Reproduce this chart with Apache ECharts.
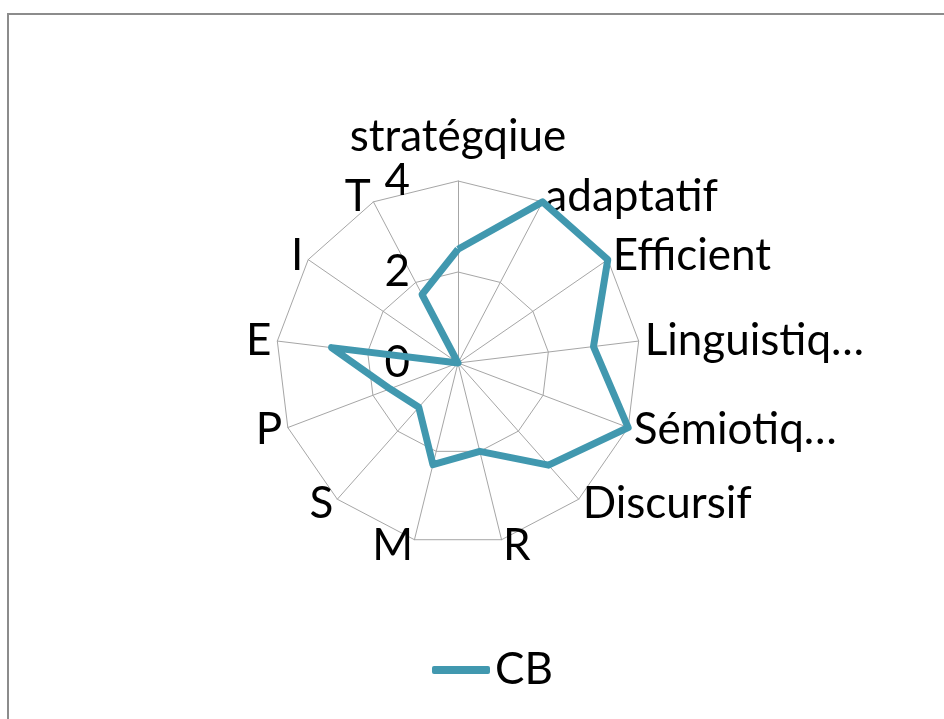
<!DOCTYPE html>
<html>
<head>
<meta charset="utf-8">
<script src="https://cdn.jsdelivr.net/npm/echarts@6/dist/echarts.min.js"></script>
<style>
  html, body { margin: 0; padding: 0; background: #fff; }
  #main { width: 944px; height: 719px; }
</style>
</head>
<body>
<div id="main"></div>
<script>
// axes of the radar, clockwise from the top
const categories = ['stratégqiue', 'adaptatif', 'Efficient', 'Linguistiq…', 'Sémiotiq…', 'Discursif',
  'R', 'M', 'S', 'P', 'E', 'I', 'T'];
// CB series
const cbValues = [2.5, 4, 4, 3, 4, 3, 2, 2.3, 1.3, 1.6, 2.8, 0, 1.7];
const seriesName = 'CB';
const axisMax = 4;

const FONT = 'Lato, "Open Sans", sans-serif';
const FONT_SIZE = 44;
const lineColor = '#4198af';

const myChart = echarts.init(document.getElementById('main'));

// echarts lays radar axes out counter-clockwise, so keep the first and reverse the rest
const order = [0].concat(categories.map((c, i) => i).slice(1).reverse());

const indicator = order.map((i) => {
  const item = { name: categories[i], min: 0, max: axisMax };
  // only the first axis carries the 0 / 2 / 4 labels
  if (i === 0) {
    item.axisLabel = {
      show: true,
      color: '#000',
      fontFamily: FONT,
      fontSize: FONT_SIZE,
      margin: 48
    };
  }
  return item;
});

const option = {
  backgroundColor: '#fff',
  animation: false,
  graphic: [{
    type: 'rect',
    shape: { x: 8, y: 14, width: 1000, height: 1000 },
    style: { fill: 'none', stroke: '#8c8c8c', lineWidth: 2 },
    silent: true
  }],
  legend: {
    data: [seriesName],
    left: 432,
    top: 648,
    padding: 0,
    icon: 'roundRect',
    itemWidth: 58,
    itemHeight: 8,
    textStyle: { color: '#000', fontFamily: FONT, fontSize: FONT_SIZE }
  },
  radar: {
    center: [458, 363],
    radius: 182,
    startAngle: 90,
    splitNumber: 2,
    shape: 'polygon',
    indicator: indicator,
    nameGap: 6,
    axisName: { color: '#000', fontFamily: FONT, fontSize: FONT_SIZE },
    axisLine: { lineStyle: { color: '#a6a6a6', width: 1 } },
    splitLine: { lineStyle: { color: '#a6a6a6', width: 1 } },
    splitArea: { show: false },
    axisTick: { show: false },
    axisLabel: { show: false }
  },
  series: [{
    name: seriesName,
    type: 'radar',
    symbol: 'none',
    lineStyle: { color: lineColor, width: 7 },
    itemStyle: { color: lineColor },
    data: [{ name: seriesName, value: order.map((i) => cbValues[i]) }]
  }]
};

myChart.setOption(option);
</script>
</body>
</html>
